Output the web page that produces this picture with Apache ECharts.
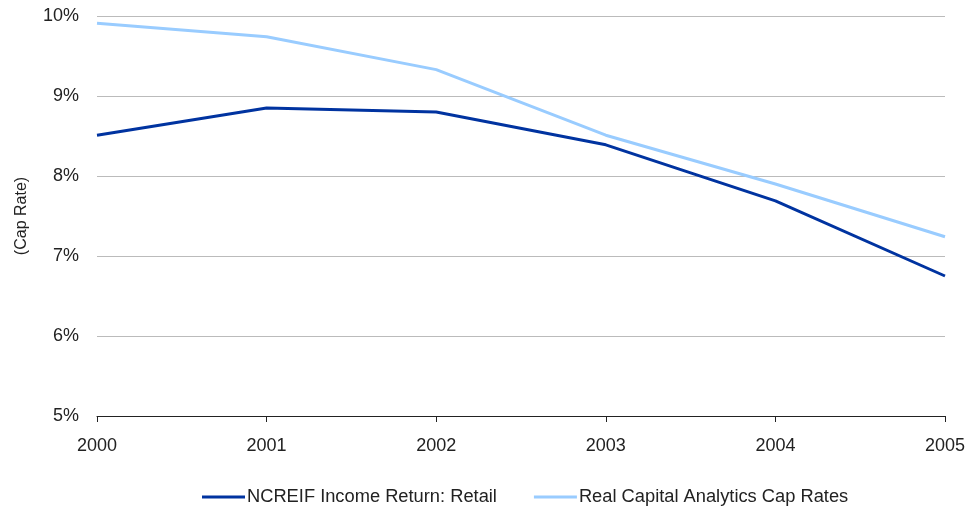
<!DOCTYPE html>
<html>
<head>
<meta charset="utf-8">
<script src="https://cdn.jsdelivr.net/npm/echarts@6/dist/echarts.min.js"></script>
<style>
  html, body { margin: 0; padding: 0; background: #fff; }
  #chart { width: 977px; height: 508px; }
</style>
</head>
<body>
<div id="chart"></div>
<script>
// data
var years = ['2000', '2001', '2002', '2003', '2004', '2005']
var ncreifRetail = [8.51, 8.85, 8.80, 8.39, 7.69, 6.75]
var rcaCapRates = [9.91, 9.74, 9.33, 8.51, 7.90, 7.24]

var font = 'Liberation Sans'
var chart = echarts.init(document.getElementById('chart'))

chart.setOption({
    animation: false,
    textStyle: { fontFamily: font },
    grid: { left: 97, right: 32, top: 16, bottom: 92 },
    legend: {
        top: 488,
        left: 202,
        padding: 0,
        itemWidth: 43,
        itemHeight: 3,
        itemGap: 37,
        icon: 'rect',
        textStyle: { fontFamily: font, fontSize: 18.3, color: '#222', padding: [0, 0, 0, -3] },
        data: ['NCREIF Income Return: Retail', 'Real Capital Analytics Cap Rates']
    },
    xAxis: {
        type: 'category',
        boundaryGap: false,
        data: years,
        axisLine: { lineStyle: { color: '#222', width: 1 } },
        axisTick: { show: true, length: 6, inside: false, lineStyle: { color: '#222' } },
        axisLabel: { fontSize: 18, color: '#222', margin: 21, fontFamily: font }
    },
    yAxis: {
        type: 'value',
        min: 5,
        max: 10,
        interval: 1,
        name: '(Cap Rate)',
        nameLocation: 'middle',
        nameGap: 67,
        nameTextStyle: { fontSize: 16, color: '#222', fontFamily: font },
        axisLine: { show: false },
        axisTick: { show: false },
        splitLine: { lineStyle: { color: '#bbb', width: 1 } },
        axisLabel: { fontSize: 18, color: '#222', margin: 18, fontFamily: font, formatter: '{value}%' }
    },
    series: [
        {
            name: 'NCREIF Income Return: Retail',
            type: 'line',
            data: ncreifRetail,
            symbol: 'none',
            color: '#0033a0',
            lineStyle: { width: 3, color: '#0033a0' }
        },
        {
            name: 'Real Capital Analytics Cap Rates',
            type: 'line',
            data: rcaCapRates,
            symbol: 'none',
            color: '#99ccff',
            lineStyle: { width: 3, color: '#99ccff' }
        }
    ]
})
</script>
</body>
</html>
